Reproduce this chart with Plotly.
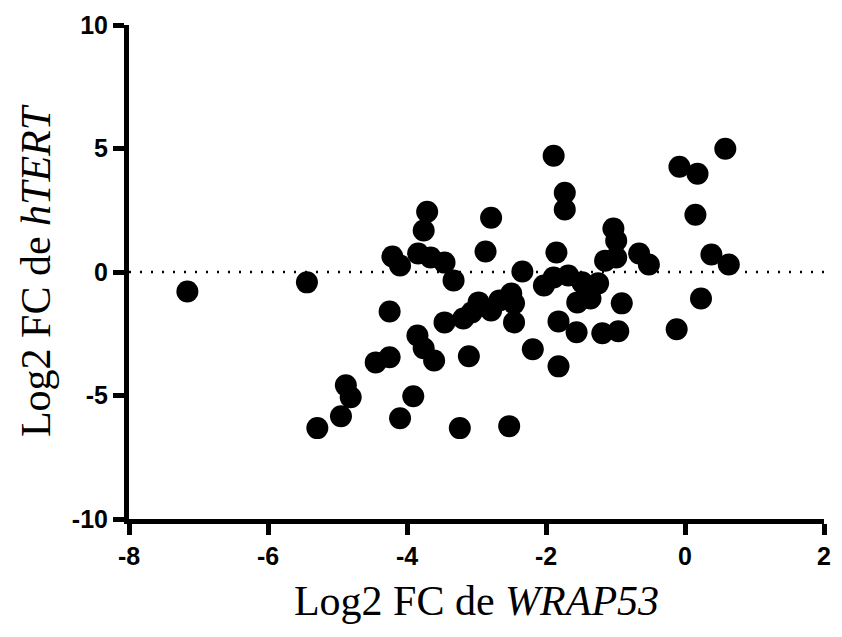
import plotly.graph_objects as go

wrap53_log2fc = [
    -7.16, -5.44, -5.29, -4.95, -4.88, -4.81, -4.45, -4.25, -4.25, -4.10,
    -3.91, -3.85, -3.76, -3.61, -4.21, -4.10, -3.84, -3.66, -3.46, -3.33,
    -3.71, -3.76, -3.46, -3.24, -3.11, -3.19, -3.07, -2.97, -2.79, -2.67,
    -2.50, -2.46, -2.46, -2.79, -2.87, -2.34, -2.19, -2.53, -2.03, -1.89,
    -1.89, -1.73, -1.73, -1.85, -1.68, -1.48, -1.25, -1.55, -1.36, -1.82,
    -1.56, -1.19, -0.96, -0.91, -1.82, -1.03, -0.99, -1.15, -0.99, -0.66,
    -0.52, -0.08, 0.18, 0.15, 0.38, 0.63, 0.58, 0.23, -0.12,
]
htert_log2fc = [
    -0.79, -0.42, -6.32, -5.84, -4.59, -5.07, -3.66, -3.45, -1.60, -5.92,
    -5.03, -2.57, -3.09, -3.58, 0.63, 0.26, 0.75, 0.59, 0.38, -0.34,
    2.44, 1.68, -2.04, -6.32, -3.41, -1.88, -1.64, -1.23, -1.56, -1.15,
    -0.87, -1.27, -2.04, 2.20, 0.83, 0.02, -3.13, -6.24, -0.55, -0.22,
    4.71, 3.21, 2.53, 0.79, -0.14, -0.42, -0.46, -1.23, -1.07, -2.00,
    -2.44, -2.48, -2.40, -1.27, -3.82, 1.76, 1.27, 0.46, 0.59, 0.75,
    0.30, 4.26, 3.98, 2.32, 0.71, 0.30, 4.99, -1.07, -2.32,
]
x_ticks = [-8, -6, -4, -2, 0, 2]
y_ticks = [-10, -5, 0, 5, 10]
x_range = [-8, 2]
y_range = [-10, 10]
ref_y = 0

fig = go.Figure()
fig.add_trace(go.Scatter(
    x=wrap53_log2fc, y=htert_log2fc, mode="markers",
    marker=dict(color="black", size=22, line=dict(width=0)),
    showlegend=False, cliponaxis=False,
))
fig.add_shape(type="line", xref="x", yref="y",
              x0=x_range[0], x1=x_range[1], y0=ref_y, y1=ref_y,
              line=dict(color="black", width=2.5, dash="2px,9px"), layer="below")

tickfont = dict(family="Liberation Sans, Arial", size=25, color="black", weight=700)
titlefont = dict(family="Liberation Serif, Times New Roman", size=42, color="black")

fig.update_layout(
    width=842, height=637,
    margin=dict(l=129, r=11, t=23, b=118),
    paper_bgcolor="white", plot_bgcolor="white",
    xaxis=dict(range=x_range, tickvals=x_ticks, ticktext=[str(v) for v in x_ticks],
               showgrid=False, zeroline=False, showline=True, linecolor="black", linewidth=5,
               ticks="outside", ticklen=11, tickwidth=5, tickcolor="black",
               tickfont=tickfont,
               title=dict(text="Log2 FC de <i>WRAP53</i>", font=titlefont, standoff=18)),
    yaxis=dict(range=y_range, tickvals=y_ticks, ticktext=[str(v) for v in y_ticks],
               showgrid=False, zeroline=False, showline=True, linecolor="black", linewidth=5,
               ticks="outside", ticklen=11, tickwidth=5, tickcolor="black",
               tickfont=tickfont,
               title=dict(text="Log2 FC de <i>hTERT</i>", font=titlefont, standoff=10)),
)
fig.write_html("out.html")
